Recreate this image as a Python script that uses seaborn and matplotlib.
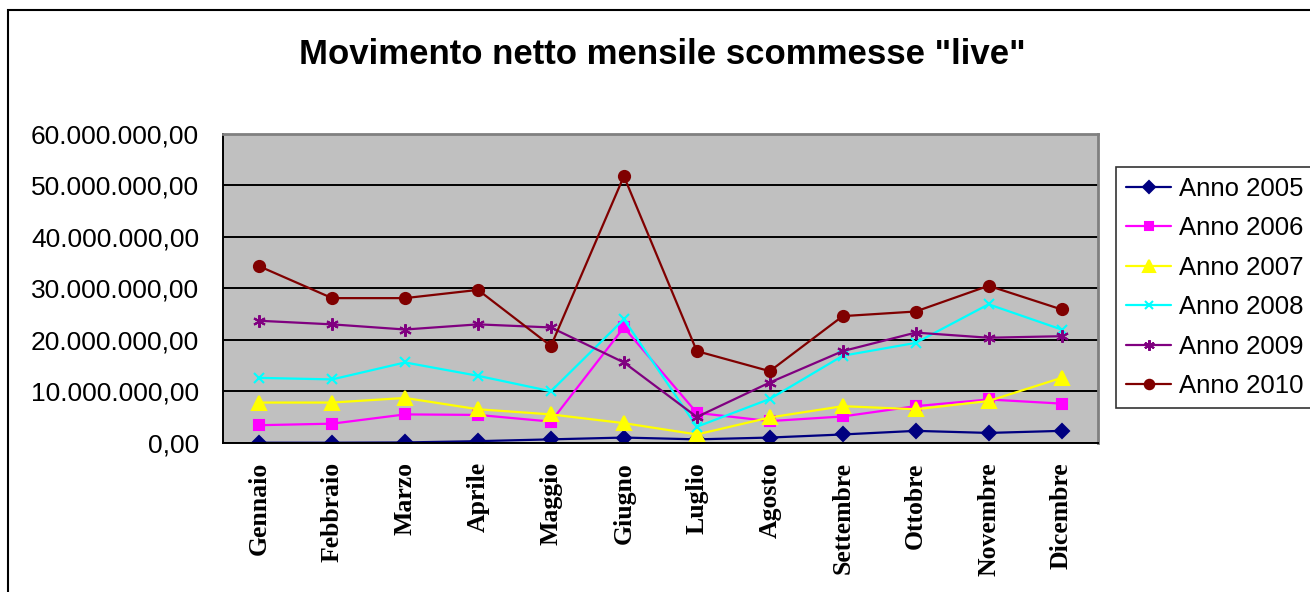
import numpy as np
import pandas as pd
import matplotlib
matplotlib.use("Agg")
import matplotlib.pyplot as plt
import matplotlib.ticker as mticker
from matplotlib.patches import Rectangle
import seaborn as sns

# data (values in millions of euro)
mesi = ["Gennaio", "Febbraio", "Marzo", "Aprile", "Maggio", "Giugno",
        "Luglio", "Agosto", "Settembre", "Ottobre", "Novembre", "Dicembre"]
anni = ["Anno 2005", "Anno 2006", "Anno 2007", "Anno 2008", "Anno 2009", "Anno 2010"]

anno_2005 = [0.0, 0.0, 0.05, 0.3, 0.65, 1.0, 0.65, 1.0, 1.6, 2.3, 1.9, 2.3]
anno_2006 = [3.4, 3.7, 5.5, 5.4, 4.1, 22.4, 5.8, 4.2, 5.1, 7.1, 8.4, 7.6]
anno_2007 = [7.8, 7.8, 8.7, 6.5, 5.5, 3.8, 1.6, 4.9, 7.1, 6.5, 8.1, 12.6]
anno_2008 = [12.6, 12.3, 15.6, 13.0, 10.0, 24.0, 3.1, 8.5, 16.9, 19.4, 26.9, 22.0]
anno_2009 = [23.7, 23.0, 22.0, 23.0, 22.4, 15.6, 5.0, 11.7, 17.8, 21.4, 20.4, 20.7]
anno_2010 = [34.3, 28.1, 28.1, 29.7, 18.8, 51.8, 17.8, 13.9, 24.6, 25.5, 30.5, 25.9]

colori = ["#000080", "#FF00FF", "#FFFF00", "#00FFFF", "#800080", "#800000"]
marker = ["D", "s", "^", "x", (6, 2, 0), "o"]
msize = [7.5, 7.5, 9.5, 7.5, 9, 8]


def euro_fmt(v, pos):
    s = f"{v:,.2f}"
    return s.replace(",", "X").replace(".", ",").replace("X", ".")


def main():
    serie = [anno_2005, anno_2006, anno_2007, anno_2008, anno_2009, anno_2010]
    df = pd.DataFrame({
        "x": np.tile(np.arange(len(mesi)), len(anni)),
        "Anno": np.repeat(anni, len(mesi)),
        "Valore": np.concatenate(serie) * 1e6,
    })

    sns.set_style("white")
    plt.rcParams["font.family"] = ["Liberation Sans", "DejaVu Sans"]
    plt.rcParams["text.color"] = "black"
    plt.rcParams["xtick.color"] = "black"
    plt.rcParams["ytick.color"] = "black"

    W, H = 1310, 592
    fig = plt.figure(figsize=(W / 100, H / 100), dpi=100)
    ax = fig.add_axes([222.7 / W, 1 - 442.7 / H, (1098 - 222.7) / W, (442.7 - 134) / H])
    ax.set_facecolor("#C0C0C0")

    for i, anno in enumerate(anni):
        sub = df[df["Anno"] == anno]
        sns.lineplot(data=sub, x="x", y="Valore", ax=ax, color=colori[i],
                     marker=marker[i], markersize=msize[i],
                     markeredgecolor=colori[i], markerfacecolor=colori[i],
                     markeredgewidth=1.5, linewidth=1.6, label=anno)

    ax.set_xlim(-0.5, len(mesi) - 0.5)
    ax.set_ylim(0, 60e6)
    ax.yaxis.set_major_locator(mticker.MultipleLocator(10e6))
    ax.yaxis.set_major_formatter(mticker.FuncFormatter(euro_fmt))
    ax.yaxis.grid(True, color="black", linewidth=1.4)
    ax.set_axisbelow(True)

    ax.set_xticks(np.arange(len(mesi)))
    ax.set_xticklabels(mesi, rotation=90, ha="center", va="top",
                       fontfamily="Liberation Serif", fontweight="bold", fontsize=18.5)
    ax.set_xticks(np.arange(-0.5, len(mesi)), minor=True)
    ax.tick_params(axis="x", which="major", length=0, pad=14)
    ax.tick_params(axis="x", which="minor", length=6, width=1.2, direction="out", color="black")
    ax.tick_params(axis="y", length=5, width=1.2, direction="out", color="black",
                   pad=12, labelsize=19)
    ax.set_xlabel("")
    ax.set_ylabel("")

    for s in ["left", "bottom"]:
        ax.spines[s].set_color("black")
        ax.spines[s].set_linewidth(1.4)
    for s in ["top", "right"]:
        ax.spines[s].set_color("#808080")
        ax.spines[s].set_linewidth(2)

    ax.get_legend().remove()
    h, l = ax.get_legend_handles_labels()
    leg = fig.legend(h, l, loc="upper left", bbox_to_anchor=(1116 / W, 1 - 166.7 / H),
                     fontsize=18.5, frameon=True, fancybox=False, borderaxespad=0,
                     handlelength=1.75, handletextpad=0.3, labelspacing=0.6,
                     borderpad=0.4, markerscale=0.85)
    leg.get_frame().set_edgecolor("black")
    leg.get_frame().set_linewidth(1.2)

    fig.text(662 / W, 1 - 55 / H, 'Movimento netto mensile scommesse "live"',
             ha="center", va="center", fontsize=25, fontweight="bold", color="black")

    fig.patches.append(Rectangle((8 / W, -0.05), 1.1, 1 - 10 / H + 0.05,
                                 transform=fig.transFigure, fill=False,
                                 edgecolor="black", linewidth=1.5))

    fig.savefig("out.png", dpi=100)


if __name__ == "__main__":
    main()
